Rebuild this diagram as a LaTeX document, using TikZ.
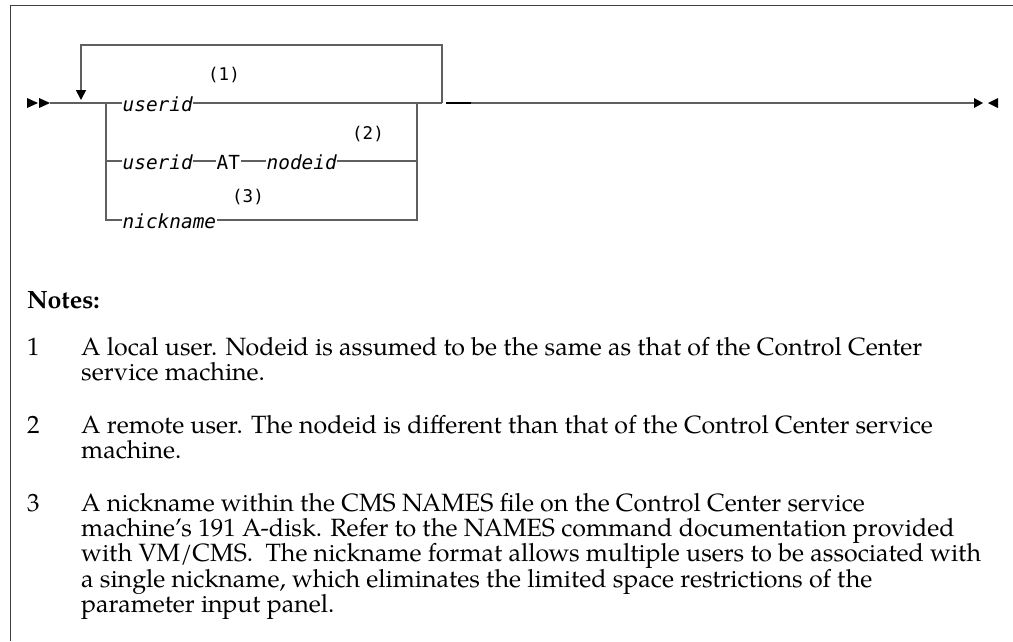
\documentclass[tikz,border=0pt]{standalone}
\usepackage{fontspec}
\setmainfont{TeX Gyre Pagella}
\newfontfamily\railfont{DejaVu Sans Mono}
\usetikzlibrary{arrows.meta}
\definecolor{railgray}{HTML}{5F5F5F}
\definecolor{framegray}{HTML}{404040}
\newcommand\notelines[1]{\begin{tabular}[t]{@{}l@{}}#1\end{tabular}}

\begin{document}
\begin{tikzpicture}[x=1pt,y=-1pt,
 rail/.style={draw=railgray,line width=1.6pt},
 frameline/.style={draw=framegray,line width=1.8pt},
 tipfill/.style={fill=black,draw=none},
 synvar/.style={font=\railfont\itshape\fontsize{19.4}{20}\selectfont,inner xsep=0.5pt,inner ysep=0pt,text height=17pt,text depth=0pt,anchor=west},
 synkey/.style={synvar,font=\railfont\fontsize{19.4}{20}\selectfont},
 noteref/.style={font=\railfont\fontsize{17.5}{18}\selectfont,inner sep=0pt},
 notenum/.style={font=\fontsize{25}{24}\selectfont,anchor=base west,inner sep=0pt},
 notetxt/.style={notenum}]
\def\rowa{103}
\def\rowb{161}
\def\rowc{220}

\useasboundingbox (0,0) rectangle (1013,641);
\draw[frameline] (1013,5.5) -- (10.5,5.5) -- (10.5,641);

\coordinate (in) at (50,\rowa);
\coordinate (brL) at (106,\rowa);
\coordinate (brLb) at (106,\rowb);
\coordinate (brR) at (417,\rowa);
\coordinate (brRb) at (417,\rowb);
\coordinate (lpR) at (442,\rowa);
\coordinate (lpRtop) at (442,45);
\coordinate (lpLtop) at (81,45);
\coordinate (lpTip) at (81,100);
\coordinate (outA) at (446,\rowa);
\coordinate (outB) at (471,\rowa);
\coordinate (out) at (974,\rowa);

\fill[tipfill] (27,98) -- (38,103) -- (27,108) -- cycle;
\fill[tipfill] (39,98) -- (50,103) -- (39,108) -- cycle;
\fill[tipfill] (974,98) -- (983,103) -- (974,108) -- cycle;
\fill[tipfill] (998,98) -- (988,103) -- (998,108) -- cycle;

\node[synvar] (uid) at (122,\rowa) {userid};
\node[synvar] (uidb) at (122,\rowb) {userid};
\node[synkey] (at) at (216,\rowb) {AT};
\node[synvar] (nid) at (266,\rowb) {nodeid};
\node[synvar] (nick) at (122,\rowc) {nickname};

\node[noteref] (ref1) at (224,75) {(1)};
\node[noteref] (ref2) at (368,134) {(2)};
\node[noteref] (ref3) at (248,197) {(3)};

\draw[rail] (in) -- (uid.west);
\draw[rail] (uid.east) -- (lpR);
\draw[rail,-{Triangle[length=10pt,width=10pt,color=black]}] (lpR) -- (lpRtop) -- (lpLtop) -- (lpTip);
\draw[rail] (brL) |- (nick.west);
\draw[rail] (brLb) -- (uidb.west);
\draw[rail] (uidb.east) -- (at.west);
\draw[rail] (at.east) -- (nid.west);
\draw[rail] (nid.east) -- (brRb);
\draw[rail] (nick.east) -| (brR);
\draw[line width=2.6pt] (outA) -- (outB);
\draw[rail] (outB) -- (out);

\node[notenum,font=\bfseries\fontsize{25}{24}\selectfont] (notes) at (27,308) {Notes:};
\node[notenum] (n1) at (27,355) {1};
\node[notetxt] (t1) at (81,355) {\notelines{A local user. Nodeid is assumed to be the same as that of the Control Center\\service machine.}};
\node[notenum] (n2) at (27,433) {2};
\node[notetxt] (t2) at (81,433) {\notelines{A remote user. The nodeid is different than that of the Control Center service\\machine.}};
\node[notenum] (n3) at (27,511) {3};
\node[notetxt] (t3) at (81,511) {\notelines{A nickname within the CMS NAMES file on the Control Center service\\machine's 191 A-disk. Refer to the NAMES command documentation provided\\with VM/CMS.\ \ The nickname format allows multiple users to be associated with\\a single nickname, which eliminates the limited space restrictions of the\\parameter input panel.}};
\end{tikzpicture}
\end{document}
